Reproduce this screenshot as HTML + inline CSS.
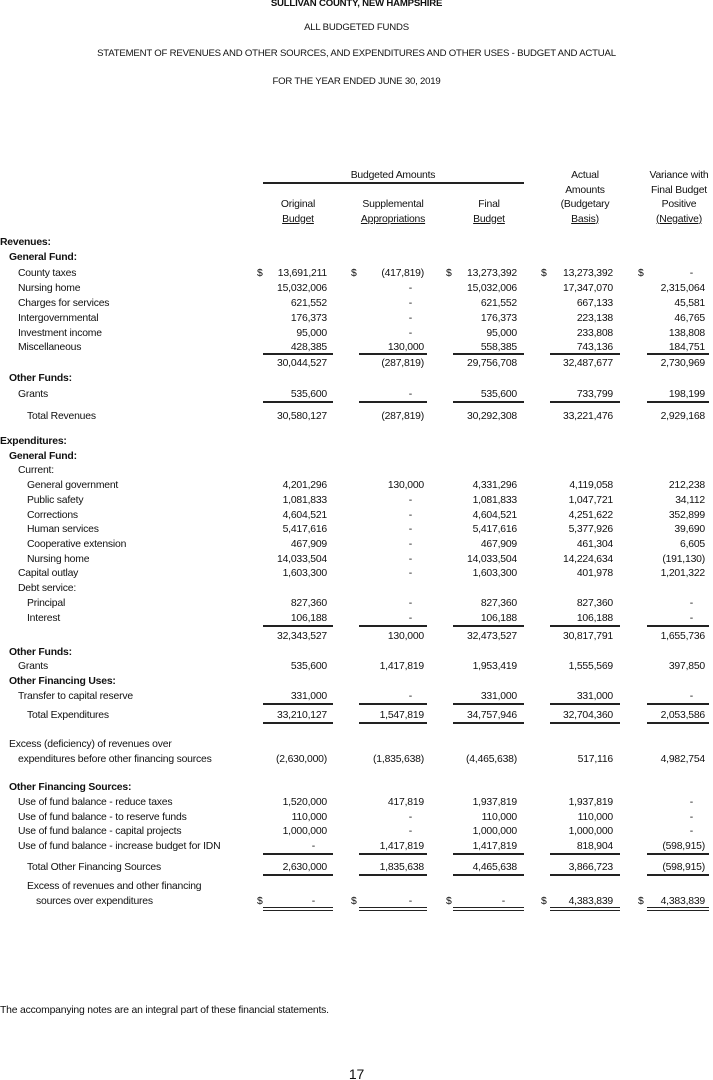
<!DOCTYPE html>
<html><head><meta charset="utf-8"><style>
body{margin:0;background:#fff}
#p{position:relative;width:713px;height:1080px;overflow:hidden;font-family:"Liberation Sans",sans-serif;font-size:10.4px;color:#111;letter-spacing:-0.2px}
.t{position:absolute;left:0;width:713px;text-align:center;font-size:9.6px}
.r{position:absolute;left:0;width:713px;height:14px;line-height:14px;white-space:nowrap}
.r span{position:absolute}
.b{font-weight:bold}
.c1{right:386px}.c2{right:289px}.c3{right:196px}.c4{right:100px}.c5{right:8px}
.d{padding-right:12px}
.s1{left:257px}.s2{left:351px}.s3{left:446px}.s4{left:541px}.s5{left:638px}
.u{position:absolute;height:1.5px;background:#222}
.u1{left:263px;width:70px}.u2{left:359px;width:68px}.u3{left:453px;width:71px}.u4{left:550px;width:70px}.u5{left:647px;width:62px}
.h{position:absolute;text-align:center;width:110px;line-height:14.5px}
.ul{text-decoration:underline}
</style></head><body><div id="p">
<div class="t b" style="top:-2px">SULLIVAN COUNTY, NEW HAMPSHIRE</div>
<div class="t" style="top:22px">ALL BUDGETED FUNDS</div>
<div class="t" style="top:48px">STATEMENT OF REVENUES AND OTHER SOURCES, AND EXPENDITURES AND OTHER USES - BUDGET AND ACTUAL</div>
<div class="t" style="top:76px">FOR THE YEAR ENDED JUNE 30, 2019</div>

<div class="h" style="left:338px;top:169px">Budgeted Amounts</div>
<div class="u" style="left:263px;width:261px;top:182px;height:2px"></div>
<div class="h" style="left:243px;top:198px">Original<br><span class="ul">Budget</span></div>
<div class="h" style="left:338px;top:198px">Supplemental<br><span class="ul">Appropriations</span></div>
<div class="h" style="left:434px;top:198px">Final<br><span class="ul">Budget</span></div>
<div class="h" style="left:530px;top:169px">Actual<br>Amounts<br>(Budgetary<br><span class="ul">Basis)</span></div>
<div class="h" style="left:624px;top:169px">Variance with<br>Final Budget<br>Positive<br><span class="ul">(Negative)</span></div>

<div class="r b" style="top:236px"><span style="left:0">Revenues:</span></div>
<div class="r b" style="top:251px"><span style="left:9px">General Fund:</span></div>
<div class="r" style="top:267px"><span style="left:18px">County taxes</span><span class="s1">$</span><span class="c1">13,691,211</span><span class="s2">$</span><span class="c2">(417,819)</span><span class="s3">$</span><span class="c3">13,273,392</span><span class="s4">$</span><span class="c4">13,273,392</span><span class="s5">$</span><span class="c5 d">-</span></div>
<div class="r" style="top:282px"><span style="left:18px">Nursing home</span><span class="c1">15,032,006</span><span class="c2 d">-</span><span class="c3">15,032,006</span><span class="c4">17,347,070</span><span class="c5">2,315,064</span></div>
<div class="r" style="top:297px"><span style="left:18px">Charges for services</span><span class="c1">621,552</span><span class="c2 d">-</span><span class="c3">621,552</span><span class="c4">667,133</span><span class="c5">45,581</span></div>
<div class="r" style="top:312px"><span style="left:18px">Intergovernmental</span><span class="c1">176,373</span><span class="c2 d">-</span><span class="c3">176,373</span><span class="c4">223,138</span><span class="c5">46,765</span></div>
<div class="r" style="top:327px"><span style="left:18px">Investment income</span><span class="c1">95,000</span><span class="c2 d">-</span><span class="c3">95,000</span><span class="c4">233,808</span><span class="c5">138,808</span></div>
<div class="r" style="top:341px"><span style="left:18px">Miscellaneous</span><span class="c1">428,385</span><span class="c2">130,000</span><span class="c3">558,385</span><span class="c4">743,136</span><span class="c5">184,751</span></div>
<div class="u u1" style="top:353px"></div><div class="u u2" style="top:353px"></div><div class="u u3" style="top:353px"></div><div class="u u4" style="top:353px"></div><div class="u u5" style="top:353px"></div>
<div class="r" style="top:357px"><span class="c1">30,044,527</span><span class="c2">(287,819)</span><span class="c3">29,756,708</span><span class="c4">32,487,677</span><span class="c5">2,730,969</span></div>
<div class="r b" style="top:372px"><span style="left:9px">Other Funds:</span></div>
<div class="r" style="top:388px"><span style="left:18px">Grants</span><span class="c1">535,600</span><span class="c2 d">-</span><span class="c3">535,600</span><span class="c4">733,799</span><span class="c5">198,199</span></div>
<div class="u u1" style="top:401px"></div><div class="u u2" style="top:401px"></div><div class="u u3" style="top:401px"></div><div class="u u4" style="top:401px"></div><div class="u u5" style="top:401px"></div>
<div class="r" style="top:410px"><span style="left:27px">Total Revenues</span><span class="c1">30,580,127</span><span class="c2">(287,819)</span><span class="c3">30,292,308</span><span class="c4">33,221,476</span><span class="c5">2,929,168</span></div>

<div class="r b" style="top:435px"><span style="left:0">Expenditures:</span></div>
<div class="r b" style="top:450px"><span style="left:9px">General Fund:</span></div>
<div class="r" style="top:464px"><span style="left:18px">Current:</span></div>
<div class="r" style="top:479px"><span style="left:27px">General government</span><span class="c1">4,201,296</span><span class="c2">130,000</span><span class="c3">4,331,296</span><span class="c4">4,119,058</span><span class="c5">212,238</span></div>
<div class="r" style="top:494px"><span style="left:27px">Public safety</span><span class="c1">1,081,833</span><span class="c2 d">-</span><span class="c3">1,081,833</span><span class="c4">1,047,721</span><span class="c5">34,112</span></div>
<div class="r" style="top:509px"><span style="left:27px">Corrections</span><span class="c1">4,604,521</span><span class="c2 d">-</span><span class="c3">4,604,521</span><span class="c4">4,251,622</span><span class="c5">352,899</span></div>
<div class="r" style="top:523px"><span style="left:27px">Human services</span><span class="c1">5,417,616</span><span class="c2 d">-</span><span class="c3">5,417,616</span><span class="c4">5,377,926</span><span class="c5">39,690</span></div>
<div class="r" style="top:538px"><span style="left:27px">Cooperative extension</span><span class="c1">467,909</span><span class="c2 d">-</span><span class="c3">467,909</span><span class="c4">461,304</span><span class="c5">6,605</span></div>
<div class="r" style="top:553px"><span style="left:27px">Nursing home</span><span class="c1">14,033,504</span><span class="c2 d">-</span><span class="c3">14,033,504</span><span class="c4">14,224,634</span><span class="c5">(191,130)</span></div>
<div class="r" style="top:567px"><span style="left:18px">Capital outlay</span><span class="c1">1,603,300</span><span class="c2 d">-</span><span class="c3">1,603,300</span><span class="c4">401,978</span><span class="c5">1,201,322</span></div>
<div class="r" style="top:582px"><span style="left:18px">Debt service:</span></div>
<div class="r" style="top:597px"><span style="left:27px">Principal</span><span class="c1">827,360</span><span class="c2 d">-</span><span class="c3">827,360</span><span class="c4">827,360</span><span class="c5 d">-</span></div>
<div class="r" style="top:612px"><span style="left:27px">Interest</span><span class="c1">106,188</span><span class="c2 d">-</span><span class="c3">106,188</span><span class="c4">106,188</span><span class="c5 d">-</span></div>
<div class="u u1" style="top:625px"></div><div class="u u2" style="top:625px"></div><div class="u u3" style="top:625px"></div><div class="u u4" style="top:625px"></div><div class="u u5" style="top:625px"></div>
<div class="r" style="top:630px"><span class="c1">32,343,527</span><span class="c2">130,000</span><span class="c3">32,473,527</span><span class="c4">30,817,791</span><span class="c5">1,655,736</span></div>
<div class="r b" style="top:646px"><span style="left:9px">Other Funds:</span></div>
<div class="r" style="top:660px"><span style="left:18px">Grants</span><span class="c1">535,600</span><span class="c2">1,417,819</span><span class="c3">1,953,419</span><span class="c4">1,555,569</span><span class="c5">397,850</span></div>
<div class="r b" style="top:675px"><span style="left:9px">Other Financing Uses:</span></div>
<div class="r" style="top:690px"><span style="left:18px">Transfer to capital reserve</span><span class="c1">331,000</span><span class="c2 d">-</span><span class="c3">331,000</span><span class="c4">331,000</span><span class="c5 d">-</span></div>
<div class="u u1" style="top:703px"></div><div class="u u2" style="top:703px"></div><div class="u u3" style="top:703px"></div><div class="u u4" style="top:703px"></div><div class="u u5" style="top:703px"></div>
<div class="r" style="top:709px"><span style="left:27px">Total Expenditures</span><span class="c1">33,210,127</span><span class="c2">1,547,819</span><span class="c3">34,757,946</span><span class="c4">32,704,360</span><span class="c5">2,053,586</span></div>
<div class="u u1" style="top:722px"></div><div class="u u2" style="top:722px"></div><div class="u u3" style="top:722px"></div><div class="u u4" style="top:722px"></div><div class="u u5" style="top:722px"></div>

<div class="r" style="top:738px"><span style="left:9px">Excess (deficiency) of revenues over</span></div>
<div class="r" style="top:753px"><span style="left:18px">expenditures before other financing sources</span><span class="c1">(2,630,000)</span><span class="c2">(1,835,638)</span><span class="c3">(4,465,638)</span><span class="c4">517,116</span><span class="c5">4,982,754</span></div>

<div class="r b" style="top:781px"><span style="left:9px">Other Financing Sources:</span></div>
<div class="r" style="top:796px"><span style="left:18px">Use of fund balance - reduce taxes</span><span class="c1">1,520,000</span><span class="c2">417,819</span><span class="c3">1,937,819</span><span class="c4">1,937,819</span><span class="c5 d">-</span></div>
<div class="r" style="top:811px"><span style="left:18px">Use of fund balance - to reserve funds</span><span class="c1">110,000</span><span class="c2 d">-</span><span class="c3">110,000</span><span class="c4">110,000</span><span class="c5 d">-</span></div>
<div class="r" style="top:825px"><span style="left:18px">Use of fund balance - capital projects</span><span class="c1">1,000,000</span><span class="c2 d">-</span><span class="c3">1,000,000</span><span class="c4">1,000,000</span><span class="c5 d">-</span></div>
<div class="r" style="top:840px"><span style="left:18px">Use of fund balance - increase budget for IDN</span><span class="c1 d">-</span><span class="c2">1,417,819</span><span class="c3">1,417,819</span><span class="c4">818,904</span><span class="c5">(598,915)</span></div>
<div class="u u1" style="top:853px"></div><div class="u u2" style="top:853px"></div><div class="u u3" style="top:853px"></div><div class="u u4" style="top:853px"></div><div class="u u5" style="top:853px"></div>
<div class="r" style="top:861px"><span style="left:27px">Total Other Financing Sources</span><span class="c1">2,630,000</span><span class="c2">1,835,638</span><span class="c3">4,465,638</span><span class="c4">3,866,723</span><span class="c5">(598,915)</span></div>
<div class="u u1" style="top:874px"></div><div class="u u2" style="top:874px"></div><div class="u u3" style="top:874px"></div><div class="u u4" style="top:874px"></div><div class="u u5" style="top:874px"></div>
<div class="r" style="top:880px"><span style="left:27px">Excess of revenues and other financing</span></div>
<div class="r" style="top:895px"><span style="left:36px">sources over expenditures</span><span class="s1">$</span><span class="c1 d">-</span><span class="s2">$</span><span class="c2 d">-</span><span class="s3">$</span><span class="c3 d">-</span><span class="s4">$</span><span class="c4">4,383,839</span><span class="s5">$</span><span class="c5">4,383,839</span></div>
<div class="u u1" style="top:907px;height:1px"></div><div class="u u2" style="top:907px;height:1px"></div><div class="u u3" style="top:907px;height:1px"></div><div class="u u4" style="top:907px;height:1px"></div><div class="u u5" style="top:907px;height:1px"></div>
<div class="u u1" style="top:910px;height:1px"></div><div class="u u2" style="top:910px;height:1px"></div><div class="u u3" style="top:910px;height:1px"></div><div class="u u4" style="top:910px;height:1px"></div><div class="u u5" style="top:910px;height:1px"></div>

<div class="r" style="top:1004px"><span style="left:0">The accompanying notes are an integral part of these financial statements.</span></div>
<div class="t" style="top:1066px;font-size:14px">17</div>
</div></body></html>
